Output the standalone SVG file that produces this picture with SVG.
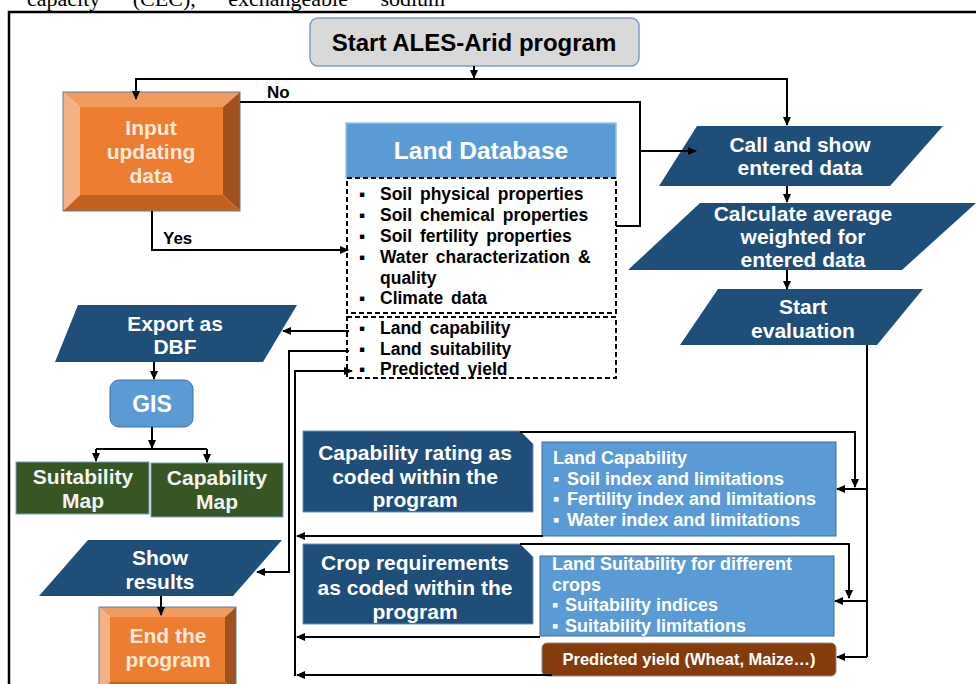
<svg xmlns="http://www.w3.org/2000/svg" width="976" height="684" viewBox="0 0 976 684">
<defs>
<style>
text{font-family:"Liberation Sans",Arial,sans-serif;font-weight:bold}
.w{fill:#ffffff}
.cr{fill:#fde9d9}
.c{text-anchor:middle}
.conn path{fill:none;stroke:#000;stroke-width:2}
.dark{fill:#1f4e79}
.lb{fill:#5b9bd5;stroke:#41719c;stroke-width:1}
.dash{fill:#fff;stroke:#000;stroke-width:2;stroke-dasharray:5 3}
.p{font-size:21px}
</style>
<marker id="ah" markerWidth="9" markerHeight="8" refX="8" refY="4" orient="auto" markerUnits="userSpaceOnUse">
<path d="M0,0 L9,4 L0,8 z" fill="#000"/>
</marker>
</defs>
<rect width="976" height="684" fill="#fff"/>
<text x="27" y="6" style="font-family:'Liberation Serif','Times New Roman',serif;font-weight:normal;font-size:22px;word-spacing:27px">capacity (CEC), exchangeable sodium</text>
<path d="M9 684 V12 H976" fill="none" stroke="#000" stroke-width="2.5"/>

<g id="start">
<rect x="310" y="18" width="329" height="48" rx="8" fill="#d9d9d9" stroke="#7f9cc0" stroke-width="1.5"/>
<text x="474" y="51" class="c" style="font-size:24px">Start ALES-Arid program</text>
</g>

<g id="input">
<polygon points="63,92 240,92 223,107 80,107" fill="#f19c5e"/>
<polygon points="63,92 80,107 80,195 63,211" fill="#f4b183"/>
<polygon points="240,92 240,211 223,195 223,107" fill="#a0521d"/>
<polygon points="63,211 80,195 223,195 240,211" fill="#c3621f"/>
<rect x="80" y="107" width="143" height="88" fill="#ed7d31"/>
<rect x="63" y="92" width="177" height="119" fill="none" stroke="#5b7fa6" stroke-width="1"/>
<text class="cr c p"><tspan x="151" y="135">Input</tspan><tspan x="151" y="159">updating</tspan><tspan x="151" y="183">data</tspan></text>
</g>

<g id="landdb">
<rect x="346" y="123" width="270" height="55" fill="#5b9bd5" stroke="#9dc3e6" stroke-width="1.5"/>
<text x="481" y="159" class="w c" style="font-size:24.5px">Land Database</text>
</g>

<g id="dbitems">
<rect class="dash" x="347" y="178" width="269" height="135"/>
<text style="font-size:17.5px;word-spacing:3px">
<tspan x="359" y="200">▪</tspan><tspan x="380" y="200">Soil physical properties</tspan>
<tspan x="359" y="221">▪</tspan><tspan x="380" y="221">Soil chemical properties</tspan>
<tspan x="359" y="242">▪</tspan><tspan x="380" y="242">Soil fertility properties</tspan>
<tspan x="359" y="263">▪</tspan><tspan x="380" y="263">Water characterization &amp;</tspan>
<tspan x="380" y="284">quality</tspan>
<tspan x="359" y="304">▪</tspan><tspan x="380" y="304">Climate data</tspan>
</text>
</g>

<g id="outputs">
<rect class="dash" x="347" y="317" width="269" height="61"/>
<text style="font-size:17.5px;word-spacing:3px">
<tspan x="359" y="334">▪</tspan><tspan x="380" y="334">Land capability</tspan>
<tspan x="359" y="355">▪</tspan><tspan x="380" y="355">Land suitability</tspan>
<tspan x="359" y="375">▪</tspan><tspan x="380" y="375">Predicted yield</tspan>
</text>
</g>

<g id="callshow">
<polygon class="dark" points="697,126 943,126 890,186 659,186"/>
<text class="w c p"><tspan x="800" y="152">Call and show</tspan><tspan x="800" y="175">entered data</tspan></text>
</g>

<g id="calculate">
<polygon class="dark" points="700,203 976,203 902,270 628,270"/>
<text class="w c p"><tspan x="803" y="221">Calculate average</tspan><tspan x="803" y="244">weighted for</tspan><tspan x="803" y="267">entered data</tspan></text>
</g>

<g id="starteval">
<polygon class="dark" points="718,289 923,289 877,345 680,345"/>
<text class="w c p"><tspan x="803" y="314">Start</tspan><tspan x="803" y="338">evaluation</tspan></text>
</g>

<g id="export">
<polygon class="dark" points="78,305 297,305 263,362 55,362"/>
<text class="w c p"><tspan x="175" y="331">Export as</tspan><tspan x="175" y="354">DBF</tspan></text>
</g>

<g id="gis">
<rect class="lb" x="110" y="380" width="83" height="47" rx="9"/>
<text x="152" y="412" class="w c" style="font-size:23px">GIS</text>
</g>

<g id="suitmap">
<rect x="16" y="462" width="133" height="52" fill="#375623" stroke="#7f9fbf" stroke-width="1"/>
<text class="c p" fill="#f2f2f2"><tspan x="83" y="484">Suitability</tspan><tspan x="83" y="508">Map</tspan></text>
</g>

<g id="capmap">
<rect x="151" y="463" width="132" height="54" fill="#375623" stroke="#7f9fbf" stroke-width="1"/>
<text class="c p" fill="#f2f2f2"><tspan x="217" y="485">Capability</tspan><tspan x="217" y="509">Map</tspan></text>
</g>

<g id="showresults">
<polygon class="dark" points="88,540 282,540 233,596 39,596"/>
<text class="w c p"><tspan x="160" y="565">Show</tspan><tspan x="160" y="589">results</tspan></text>
</g>

<g id="end">
<polygon points="99,607 236,607 225,617 110,617" fill="#f19c5e"/>
<polygon points="99,607 110,617 110,682 99,694" fill="#f4b183"/>
<polygon points="236,607 236,694 225,682 225,617" fill="#a0521d"/>
<polygon points="99,694 110,682 225,682 236,694" fill="#c3621f"/>
<rect x="110" y="617" width="115" height="65" fill="#ed7d31"/>
<rect x="99" y="607" width="137" height="87" fill="none" stroke="#5b7fa6" stroke-width="1"/>
<text class="cr c p"><tspan x="168" y="643">End the</tspan><tspan x="168" y="667">program</tspan></text>
</g>

<g id="caprating">
<path class="dark" d="M303 431 H520 L533 444 V512 H303 Z" stroke="#6d8fb5" stroke-width="1"/>
<text class="w c p"><tspan x="415" y="460">Capability rating as</tspan><tspan x="415" y="484">coded within the</tspan><tspan x="415" y="507">program</tspan></text>
</g>

<g id="cropreq">
<path class="dark" d="M303 544 H520 L533 557 V624 H303 Z" stroke="#6d8fb5" stroke-width="1"/>
<text class="w c p"><tspan x="415" y="570">Crop requirements</tspan><tspan x="415" y="595">as coded within the</tspan><tspan x="415" y="619">program</tspan></text>
</g>

<g id="landcap">
<rect class="lb" x="542" y="442" width="294" height="94"/>
<text class="w" style="font-size:18px">
<tspan x="553" y="464">Land Capability</tspan>
<tspan x="553" y="485">▪</tspan><tspan x="567" y="485">Soil index and limitations</tspan>
<tspan x="553" y="505">▪</tspan><tspan x="567" y="505">Fertility index and limitations</tspan>
<tspan x="553" y="526">▪</tspan><tspan x="567" y="526">Water index and limitations</tspan>
</text>
</g>

<g id="landsuit">
<rect class="lb" x="540" y="556" width="294" height="80"/>
<text class="w" style="font-size:18px">
<tspan x="552" y="570">Land Suitability for different</tspan>
<tspan x="552" y="591">crops</tspan>
<tspan x="552" y="611">▪</tspan><tspan x="565" y="611">Suitability indices</tspan>
<tspan x="552" y="632">▪</tspan><tspan x="565" y="632">Suitability limitations</tspan>
</text>
</g>

<g id="predyield">
<rect x="542" y="643" width="294" height="33" rx="5" fill="#843c0c" stroke="#8c8c8c" stroke-width="1"/>
<text x="689" y="665" class="w c" style="font-size:16.5px">Predicted yield (Wheat, Maize…)</text>
</g>

<g id="labels">
<text x="267" y="98" style="font-size:17px">No</text>
<text x="163" y="244" style="font-size:17px">Yes</text>
</g>

<g class="conn" id="connectors">
<path d="M474 66 V78" marker-end="url(#ah)"/>
<path d="M474 79 H136 V99" marker-end="url(#ah)"/>
<path d="M474 79 H787 V125" marker-end="url(#ah)"/>
<path d="M240 102 H640 V226 H616"/>
<path d="M640 151 H696" marker-end="url(#ah)"/>
<path d="M152 211 V250 H348" marker-end="url(#ah)"/>
<path d="M787 186 V202" marker-end="url(#ah)"/>
<path d="M787 270 V289" marker-end="url(#ah)"/>
<path d="M867 345 V657"/>
<path d="M867 489 H837" marker-end="url(#ah)"/>
<path d="M867 601 H835" marker-end="url(#ah)"/>
<path d="M867 657 H837" marker-end="url(#ah)"/>
<path d="M520 432 H855 V487" marker-end="url(#ah)"/>
<path d="M520 544 H849 V598" marker-end="url(#ah)"/>
<path d="M543 536 H297" marker-end="url(#ah)"/>
<path d="M540 637 H297" marker-end="url(#ah)"/>
<path d="M552 675 H297" marker-end="url(#ah)"/>
<path d="M295 676 V371 H352" marker-end="url(#ah)"/>
<path d="M349 351 H289 V572 H257" marker-end="url(#ah)"/>
<path d="M349 331 H283" marker-end="url(#ah)"/>
<path d="M154 362 V379" marker-end="url(#ah)"/>
<path d="M152 427 V448" marker-end="url(#ah)"/>
<path d="M96 449 H207"/>
<path d="M96 449 V461" marker-end="url(#ah)"/>
<path d="M207 449 V462" marker-end="url(#ah)"/>
<path d="M161 596 V615" marker-end="url(#ah)"/>
</g>
</svg>
